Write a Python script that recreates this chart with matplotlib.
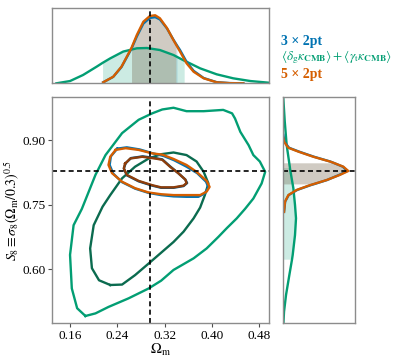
import numpy as np
import matplotlib
matplotlib.use("Agg")
import matplotlib.pyplot as plt

plt.rcParams["font.family"] = ["Liberation Serif", "DejaVu Serif"]
plt.rcParams["mathtext.fontset"] = "stix"

# Colours for the three analyses
c_blue = "#0173B2"
c_green = "#029E73"
c_orange = "#D55E00"
c_blue_dk = "#014F7C"
c_green_dk = "#0B6B4F"
c_orange_dk = "#8E3D0A"

# Fiducial values (dashed lines)
om_fid = 0.295
s8_fid = 0.828

# 2D contours (95% outer, 68% inner)
om_green_95 = [0.186, 0.172, 0.163, 0.160, 0.166, 0.180, 0.203, 0.220, 0.248, 0.276, 0.299, 0.316, 0.335,
               0.357, 0.386, 0.419, 0.434, 0.439, 0.448, 0.462, 0.470, 0.481, 0.490, 0.484, 0.470, 0.456,
               0.442, 0.425, 0.411, 0.391, 0.369, 0.335, 0.314, 0.293, 0.259, 0.225, 0.203, 0.186]
s8_green_95 = [0.491, 0.509, 0.555, 0.633, 0.702, 0.740, 0.819, 0.865, 0.916, 0.947, 0.962, 0.971, 0.975,
               0.967, 0.967, 0.970, 0.962, 0.950, 0.919, 0.888, 0.865, 0.850, 0.826, 0.799, 0.764, 0.740,
               0.718, 0.695, 0.675, 0.648, 0.625, 0.598, 0.573, 0.555, 0.532, 0.512, 0.497, 0.491]
om_green_68 = [0.228, 0.209, 0.197, 0.194, 0.200, 0.215, 0.228, 0.248, 0.270, 0.293, 0.314, 0.335, 0.357,
               0.374, 0.386, 0.394, 0.388, 0.380, 0.369, 0.352, 0.335, 0.314, 0.293, 0.270, 0.248, 0.228]
s8_green_68 = [0.563, 0.574, 0.602, 0.648, 0.702, 0.745, 0.772, 0.811, 0.838, 0.857, 0.867, 0.871, 0.865,
               0.850, 0.826, 0.799, 0.772, 0.743, 0.718, 0.687, 0.663, 0.638, 0.613, 0.586, 0.564, 0.563]

om_blue_95 = [0.240, 0.256, 0.278, 0.300, 0.318, 0.336, 0.357, 0.375, 0.390, 0.394, 0.388, 0.377, 0.357,
              0.335, 0.314, 0.293, 0.270, 0.248, 0.233, 0.227, 0.229, 0.240]
s8_blue_95 = [0.880, 0.883, 0.878, 0.869, 0.863, 0.853, 0.838, 0.823, 0.803, 0.790, 0.776, 0.768, 0.768,
              0.769, 0.772, 0.777, 0.787, 0.802, 0.822, 0.842, 0.862, 0.880]
om_blue_68 = [0.254, 0.263, 0.283, 0.304, 0.316, 0.329, 0.343, 0.355, 0.358, 0.352, 0.335, 0.314, 0.299,
              0.276, 0.256, 0.251, 0.254]
s8_blue_68 = [0.846, 0.858, 0.862, 0.858, 0.855, 0.839, 0.823, 0.808, 0.800, 0.793, 0.789, 0.789, 0.794,
              0.804, 0.818, 0.834, 0.846]

om_orange_95 = [0.237, 0.254, 0.276, 0.299, 0.316, 0.335, 0.357, 0.374, 0.391, 0.396, 0.391, 0.380, 0.357,
                0.335, 0.314, 0.293, 0.270, 0.248, 0.231, 0.225, 0.228, 0.237]
s8_orange_95 = [0.877, 0.881, 0.877, 0.869, 0.866, 0.856, 0.842, 0.826, 0.805, 0.791, 0.780, 0.772, 0.772,
                0.772, 0.774, 0.778, 0.788, 0.803, 0.823, 0.842, 0.861, 0.877]
om_orange_68 = [0.253, 0.262, 0.282, 0.304, 0.316, 0.329, 0.343, 0.355, 0.357, 0.352, 0.335, 0.314, 0.299,
                0.276, 0.256, 0.251, 0.253]
s8_orange_68 = [0.845, 0.857, 0.861, 0.857, 0.854, 0.838, 0.823, 0.808, 0.800, 0.794, 0.790, 0.790, 0.795,
                0.805, 0.819, 0.834, 0.845]

# 1D marginals of Omega_m (relative height)
om_1d_green = [0.137, 0.160, 0.182, 0.205, 0.215, 0.228, 0.250, 0.273, 0.290, 0.312, 0.335, 0.353, 0.357,
               0.380, 0.408, 0.436, 0.465, 0.496]
p_om_green = [0.0, 0.03, 0.11, 0.22, 0.27, 0.33, 0.42, 0.463, 0.467, 0.44, 0.374, 0.30, 0.286,
              0.198, 0.119, 0.066, 0.030, 0.008]
om_1d_blue = [0.216, 0.233, 0.247, 0.262, 0.264, 0.273, 0.284, 0.295, 0.304, 0.312, 0.324, 0.335, 0.341,
              0.346, 0.357, 0.369, 0.386, 0.408, 0.430, 0.453]
p_om_blue = [0.013, 0.085, 0.215, 0.43, 0.46, 0.62, 0.79, 0.865, 0.875, 0.845, 0.725, 0.575, 0.50,
             0.44, 0.285, 0.165, 0.07, 0.015, 0.003, 0.0]
om_1d_orange = [0.216, 0.233, 0.247, 0.262, 0.264, 0.273, 0.284, 0.295, 0.304, 0.312, 0.324, 0.335, 0.339,
                0.346, 0.357, 0.369, 0.386, 0.408, 0.430, 0.453]
p_om_orange = [0.013, 0.087, 0.22, 0.44, 0.47, 0.64, 0.815, 0.89, 0.90, 0.86, 0.73, 0.57, 0.515,
               0.42, 0.265, 0.153, 0.066, 0.013, 0.002, 0.0]

# 1D marginals of S8
s8_1d_green = [0.470, 0.501, 0.540, 0.586, 0.623, 0.633, 0.679, 0.718, 0.749, 0.788, 0.834, 0.836, 0.888,
               0.943, 0.997]
p_s8_green = [0.0, 0.01, 0.038, 0.084, 0.122, 0.131, 0.163, 0.177, 0.163, 0.14, 0.093, 0.092, 0.047,
              0.02, 0.0]
s8_1d_blue = [0.733, 0.757, 0.772, 0.784, 0.795, 0.798, 0.807, 0.819, 0.828, 0.838, 0.847, 0.850, 0.861,
              0.873, 0.882, 0.896, 0.912]
p_s8_blue = [0.01, 0.026, 0.075, 0.195, 0.38, 0.44, 0.61, 0.78, 0.89, 0.83, 0.70, 0.655, 0.43,
             0.22, 0.08, 0.015, 0.0]
s8_1d_orange = [0.733, 0.757, 0.772, 0.784, 0.795, 0.798, 0.807, 0.819, 0.828, 0.838, 0.847, 0.850, 0.861,
                0.873, 0.882, 0.896, 0.905]
p_s8_orange = [0.01, 0.024, 0.07, 0.187, 0.37, 0.43, 0.605, 0.79, 0.906, 0.837, 0.70, 0.65, 0.42,
               0.21, 0.07, 0.01, 0.0]

# 68% intervals (shaded bands)
band_om_green = (0.215, 0.353)
band_om_blue = (0.264, 0.341)
band_om_orange = (0.264, 0.339)
band_s8_green = (0.623, 0.836)
band_s8_blue = (0.798, 0.847)
band_s8_orange = (0.798, 0.847)

labels = ["3 × 2pt",
          r"$\langle\delta_{\rm g}\kappa_{\mathbf{CMB}}\rangle + \langle\gamma_{\rm t}\kappa_{\mathbf{CMB}}\rangle$",
          "5 × 2pt"]

om_lim = (0.13, 0.497)
s8_lim = (0.474, 1.0)

fig = plt.figure(figsize=(4.07, 3.63), dpi=100)
ax = fig.add_axes([0.1285, 0.1094, 0.5332, 0.6234])
ax_top = fig.add_axes([0.1285, 0.7705, 0.5332, 0.2083])
ax_right = fig.add_axes([0.6961, 0.1094, 0.1762, 0.6234])

dash = (0, (3, 2))
lw = 1.7

# Main 2D panel
ax.plot(om_green_95, s8_green_95, color=c_green, lw=lw)
ax.plot(om_green_68, s8_green_68, color=c_green_dk, lw=lw)
ax.plot(om_blue_95, s8_blue_95, color=c_blue, lw=lw)
ax.plot(om_blue_68, s8_blue_68, color=c_blue_dk, lw=lw)
ax.plot(om_orange_95, s8_orange_95, color=c_orange, lw=lw)
ax.plot(om_orange_68, s8_orange_68, color=c_orange_dk, lw=lw)
ax.axvline(om_fid, color="k", ls=dash, lw=1.2)
ax.axhline(s8_fid, color="k", ls=dash, lw=1.2)
ax.set_xlim(om_lim)
ax.set_ylim(s8_lim)
ax.set_xticks([0.16, 0.24, 0.32, 0.40, 0.48])
ax.set_yticks([0.60, 0.75, 0.90])
ax.xaxis.set_major_formatter(matplotlib.ticker.FormatStrFormatter("%.2f"))
ax.yaxis.set_major_formatter(matplotlib.ticker.FormatStrFormatter("%.2f"))
ax.tick_params(labelsize=9.5, length=3, width=0.8, color="0.3", pad=2)
ax.set_xlabel(r"$\Omega_{\rm m}$", fontsize=10.5, labelpad=0)
ax.set_ylabel(r"$S_8 \equiv \sigma_8(\Omega_{\rm m}/0.3)^{0.5}$", fontsize=10)
ax.yaxis.set_label_coords(-0.145, 0.5)


def fill_band(axis, x, y, band, color, alpha, vertical=False):
    x = np.asarray(x)
    y = np.asarray(y)
    mask = (x >= band[0]) & (x <= band[1])
    if vertical:
        axis.fill_betweenx(x[mask], 0, y[mask], color=color, alpha=alpha, lw=0)
    else:
        axis.fill_between(x[mask], 0, y[mask], color=color, alpha=alpha, lw=0)


# Top marginal: Omega_m
fill_band(ax_top, om_1d_green, p_om_green, band_om_green, c_green, 0.2)
fill_band(ax_top, om_1d_orange, p_om_orange, band_om_orange, c_orange, 0.22)
fill_band(ax_top, om_1d_blue, p_om_blue, band_om_blue, c_blue, 0.15)
ax_top.plot(om_1d_green, p_om_green, color=c_green, lw=lw)
ax_top.plot(om_1d_blue, p_om_blue, color=c_blue, lw=lw)
ax_top.plot(om_1d_orange, p_om_orange, color=c_orange, lw=lw)
ax_top.axvline(om_fid, color="k", ls=dash, lw=1.2)
ax_top.set_xlim(om_lim)
ax_top.set_ylim(0, 1)

# Right marginal: S8
fill_band(ax_right, s8_1d_green, p_s8_green, band_s8_green, c_green, 0.2, vertical=True)
fill_band(ax_right, s8_1d_orange, p_s8_orange, band_s8_orange, c_orange, 0.22, vertical=True)
fill_band(ax_right, s8_1d_blue, p_s8_blue, band_s8_blue, c_blue, 0.15, vertical=True)
ax_right.plot(p_s8_green, s8_1d_green, color=c_green, lw=lw)
ax_right.plot(p_s8_blue, s8_1d_blue, color=c_blue, lw=lw)
ax_right.plot(p_s8_orange, s8_1d_orange, color=c_orange, lw=lw)
ax_right.axhline(s8_fid, color="k", ls=dash, lw=1.2)
ax_right.set_ylim(s8_lim)
ax_right.set_xlim(0, 1)

for a in (ax_top, ax_right):
    a.set_xticks([])
    a.set_yticks([])
for a in (ax, ax_top, ax_right):
    for s in a.spines.values():
        s.set_color("0.55")
        s.set_linewidth(1.0)

# Legend as coloured text
fig.text(0.690, 0.887, labels[0], color=c_blue, fontsize=10, fontweight="bold", va="center")
fig.text(0.690, 0.843, labels[1], color=c_green, fontsize=9.5, va="center")
fig.text(0.690, 0.795, labels[2], color=c_orange, fontsize=10, fontweight="bold", va="center")

fig.savefig("out.png", dpi=100)
